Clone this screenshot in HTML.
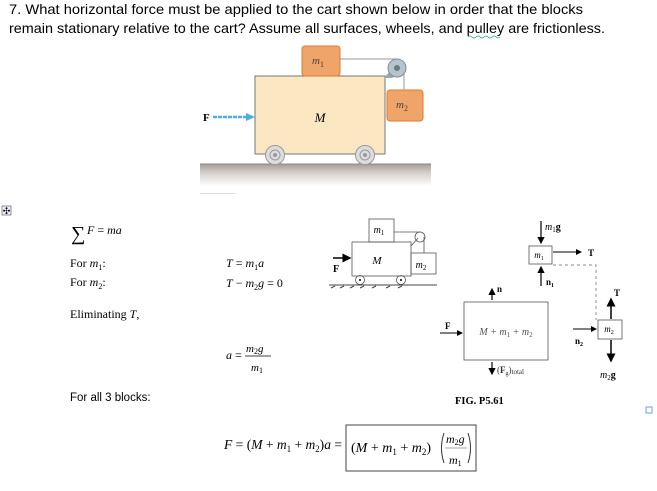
<!DOCTYPE html>
<html><head><meta charset="utf-8"><style>
html,body{margin:0;padding:0;background:#fff;width:657px;height:491px;overflow:hidden}
svg{display:block}
.s{font-family:"Liberation Serif",serif}
.i{font-family:"Liberation Serif",serif;font-style:italic}
</style></head><body>
<svg width="657" height="491" viewBox="0 0 657 491" xmlns="http://www.w3.org/2000/svg">
<defs>
<linearGradient id="gr" x1="0" y1="0" x2="0" y2="1"><stop offset="0" stop-color="#a59c97"/><stop offset="0.4" stop-color="#d6d0cc"/><stop offset="1" stop-color="#fff"/></linearGradient>
<marker id="a" markerWidth="6" markerHeight="6" refX="5" refY="3" orient="auto"><path d="M0,0 L6,3 L0,6z" fill="#000"/></marker>
</defs>
<text x="9" y="14" font-family="Liberation Sans,sans-serif" font-size="14" textLength="574" lengthAdjust="spacingAndGlyphs">7. What horizontal force must be applied to the cart shown below in order that the blocks</text>
<text x="9" y="33" font-family="Liberation Sans,sans-serif" font-size="14" textLength="596" lengthAdjust="spacingAndGlyphs">remain stationary relative to the cart? Assume all surfaces, wheels, and pulley are frictionless.</text>
<path d="M468,37 q2,-2 4,0 t4,0 t4,0 t4,0 t4,0 t4,0 t4,0 t4,0" stroke="#2a8" fill="none" stroke-width="0.8"/>

<!-- picture 1 -->
<rect x="200" y="164" width="231" height="22" fill="url(#gr)"/>
<line x1="200" y1="164" x2="431" y2="164" stroke="#888"/>
<rect x="255" y="76" width="130" height="78" fill="#fbe8c2" stroke="#777"/>
<text x="320" y="122" class="i" font-size="13" text-anchor="middle">M</text>
<rect x="302" y="46" width="38" height="30" rx="3" fill="#efa46a" stroke="#e07a30"/>
<text x="318" y="64" class="i" font-size="11" text-anchor="middle" fill="#444">m<tspan font-size="8" dy="3" font-style="normal">1</tspan></text>
<line x1="340" y1="59" x2="397" y2="59" stroke="#999"/>
<line x1="404" y1="69" x2="404" y2="90" stroke="#999"/>
<polygon points="384,78 392,78 401,72 396,64" fill="#9aa8b0"/>
<circle cx="397" cy="68" r="9" fill="#b8c4cc" stroke="#7e8e98"/>
<circle cx="397" cy="68" r="3" fill="#6a7a84"/>
<rect x="387" y="90" width="36" height="31" rx="3" fill="#efa46a" stroke="#e07a30"/>
<text x="402" y="108" class="i" font-size="11" text-anchor="middle" fill="#444">m<tspan font-size="8" dy="3" font-style="normal">2</tspan></text>
<text x="203" y="121" class="s" font-size="11" font-weight="bold">F</text>
<line x1="213" y1="117" x2="248" y2="117" stroke="#4ab0e8" stroke-width="2.5" stroke-dasharray="4,1"/>
<polygon points="246,113 255,117 246,121" fill="#4ab0e8"/>
<circle cx="275" cy="155" r="9.5" fill="#ddd" stroke="#999"/><circle cx="275" cy="155" r="5" fill="none" stroke="#999"/><circle cx="275" cy="155" r="2" fill="#999"/>
<circle cx="365" cy="155" r="9.5" fill="#ddd" stroke="#999"/><circle cx="365" cy="155" r="5" fill="none" stroke="#999"/><circle cx="365" cy="155" r="2" fill="#999"/>
<rect x="200" y="193" width="35" height="1" fill="#ddd"/>

<!-- move icon -->
<rect x="2" y="206" width="9" height="9" fill="#eef" stroke="#777" stroke-width="0.8"/>
<text x="6.5" y="214" font-size="9" text-anchor="middle" font-family="DejaVu Sans,sans-serif">✣</text>

<!-- equations -->
<text x="71" y="240" class="s" font-size="20">∑</text>
<text x="87" y="234" class="i" font-size="12">F <tspan font-style="normal">=</tspan> ma</text>
<text x="70" y="267" class="s" font-size="12">For <tspan font-style="italic">m</tspan><tspan font-size="8" dy="3">1</tspan><tspan dy="-3">:</tspan></text>
<text x="70" y="286" class="s" font-size="12">For <tspan font-style="italic">m</tspan><tspan font-size="8" dy="3">2</tspan><tspan dy="-3">:</tspan></text>
<text x="226" y="267" class="s" font-size="12"><tspan font-style="italic">T</tspan> = <tspan font-style="italic">m</tspan><tspan font-size="8" dy="3">1</tspan><tspan dy="-3" font-style="italic">a</tspan></text>
<text x="226" y="287" class="s" font-size="12"><tspan font-style="italic">T</tspan> − <tspan font-style="italic">m</tspan><tspan font-size="8" dy="3">2</tspan><tspan dy="-3" font-style="italic">g</tspan> = 0</text>
<text x="70" y="318" class="s" font-size="12">Eliminating <tspan font-style="italic">T</tspan>,</text>
<text x="226" y="359" class="s" font-size="12"><tspan font-style="italic">a</tspan> =</text>
<text x="246" y="352" class="i" font-size="11">m<tspan font-size="8" dy="2" font-style="normal">2</tspan><tspan dy="-2">g</tspan></text>
<line x1="245" y1="356" x2="271" y2="356" stroke="#000" stroke-width="0.7"/>
<text x="251" y="371" class="i" font-size="11">m<tspan font-size="8" dy="2" font-style="normal">1</tspan></text>
<text x="70" y="401" font-family="Liberation Sans,sans-serif" font-size="11.5">For all 3 blocks:</text>
<text x="224" y="449" class="s" font-size="14" textLength="118" lengthAdjust="spacingAndGlyphs"><tspan font-style="italic">F</tspan> = (<tspan font-style="italic">M</tspan> + <tspan font-style="italic">m</tspan><tspan font-size="9" dy="3">1</tspan><tspan dy="-3"> + </tspan><tspan font-style="italic">m</tspan><tspan font-size="9" dy="3">2</tspan><tspan dy="-3">)</tspan><tspan font-style="italic">a</tspan> =</text>
<rect x="346" y="425" width="130" height="46" fill="none" stroke="#444" stroke-width="1"/>
<text x="351" y="452" class="s" font-size="14">(<tspan font-style="italic">M</tspan> + <tspan font-style="italic">m</tspan><tspan font-size="9" dy="3">1</tspan><tspan dy="-3"> + </tspan><tspan font-style="italic">m</tspan><tspan font-size="9" dy="3">2</tspan><tspan dy="-3">)</tspan></text>
<path d="M444,433 q-5,15 0,30" fill="none" stroke="#333" stroke-width="1"/>
<path d="M468,433 q5,15 0,30" fill="none" stroke="#333" stroke-width="1"/>
<text x="446" y="443" class="i" font-size="12">m<tspan font-size="8" dy="2" font-style="normal">2</tspan><tspan dy="-2">g</tspan></text>
<line x1="445" y1="448" x2="467" y2="448" stroke="#888" stroke-width="0.8"/>
<text x="449" y="464" class="i" font-size="12">m<tspan font-size="8" dy="2" font-style="normal">1</tspan></text>

<!-- small figure -->
<g stroke="#555" fill="none" stroke-width="0.8">
<rect x="352" y="242" width="59" height="34"/>
<rect x="369" y="219" width="25" height="23"/>
<rect x="411" y="253" width="25" height="21"/>
<line x1="394" y1="232" x2="421" y2="232"/>
<line x1="424" y1="237" x2="424" y2="253"/>
<circle cx="420" cy="237" r="5"/>
<line x1="411" y1="246" x2="418" y2="238"/>
<circle cx="360" cy="280" r="4.5"/><circle cx="401" cy="280" r="4.5"/>
</g>
<circle cx="360" cy="280" r="1" fill="#000"/><circle cx="401" cy="280" r="1" fill="#000"/>
<line x1="329" y1="285" x2="437" y2="285" stroke="#444" stroke-width="1"/>
<path d="M331,288 l4,-2 M340,288 l4,-2 M350,288 l4,-2 M360,288 l4,-2 M372,288 l4,-2 M386,288 l4,-2 M398,288 l4,-2" stroke="#444"/>
<text x="379" y="233" class="i" font-size="10" text-anchor="middle">m<tspan font-size="7" dy="2" font-style="normal">1</tspan></text>
<text x="377" y="264" class="i" font-size="11" text-anchor="middle">M</text>
<text x="421" y="268" class="i" font-size="10" text-anchor="middle">m<tspan font-size="7" dy="2" font-style="normal">2</tspan></text>
<line x1="333" y1="258" x2="350" y2="258" stroke="#000" stroke-width="1.5" marker-end="url(#a)"/>
<text x="333" y="272" class="s" font-size="10" font-weight="bold">F</text>

<!-- FBDs -->
<rect x="464" y="302" width="84" height="58" fill="none" stroke="#555" stroke-width="0.8"/>
<text x="506" y="335" class="i" font-size="10" text-anchor="middle" fill="#555">M + m<tspan font-size="7" dy="2" font-style="normal">1</tspan><tspan dy="-2"> + m</tspan><tspan font-size="7" dy="2" font-style="normal">2</tspan></text>
<line x1="492" y1="300" x2="492" y2="289" stroke="#000" stroke-width="1.2" marker-end="url(#a)"/>
<text x="497" y="292" class="s" font-size="9" font-weight="bold">n</text>
<line x1="440" y1="333" x2="462" y2="333" stroke="#000" stroke-width="1" marker-end="url(#a)"/>
<text x="445" y="329" class="s" font-size="9" font-weight="bold">F</text>
<line x1="492" y1="362" x2="492" y2="374" stroke="#000" stroke-width="1.2" marker-end="url(#a)"/>
<text x="497" y="373" class="s" font-size="9" fill="#333">(<tspan font-weight="bold">F</tspan><tspan font-size="6" dy="2">g</tspan><tspan dy="-2">)</tspan><tspan font-size="7" dy="1">total</tspan></text>

<rect x="529" y="246" width="23" height="18" fill="none" stroke="#555" stroke-width="0.8"/>
<text x="539" y="258" class="i" font-size="9" text-anchor="middle">m<tspan font-size="6" dy="2" font-style="normal">1</tspan></text>
<line x1="541" y1="221" x2="541" y2="243" stroke="#000" stroke-width="1.2" marker-end="url(#a)"/>
<text x="545" y="230" class="i" font-size="10">m<tspan font-size="7" dy="2" font-style="normal">1</tspan><tspan dy="-2" font-weight="bold" font-style="normal">g</tspan></text>
<line x1="553" y1="252" x2="581" y2="252" stroke="#000" stroke-width="1" marker-end="url(#a)"/>
<text x="588" y="256" class="s" font-size="9" font-weight="bold">T</text>
<line x1="541" y1="286" x2="541" y2="267" stroke="#000" stroke-width="1.2" marker-end="url(#a)"/>
<text x="546" y="285" class="s" font-size="9" font-weight="bold">n<tspan font-size="6" dy="2">1</tspan></text>
<path d="M553,265 H596 V320" fill="none" stroke="#666" stroke-width="0.7" stroke-dasharray="3,3"/>

<rect x="598" y="320" width="24" height="19" fill="none" stroke="#555" stroke-width="0.8"/>
<text x="609" y="332" class="i" font-size="9" text-anchor="middle">m<tspan font-size="6" dy="2" font-style="normal">2</tspan></text>
<line x1="611" y1="319" x2="611" y2="299" stroke="#000" stroke-width="1.5" marker-end="url(#a)"/>
<text x="614" y="296" class="s" font-size="9" font-weight="bold">T</text>
<line x1="573" y1="329" x2="596" y2="329" stroke="#000" stroke-width="1" marker-end="url(#a)"/>
<text x="575" y="344" class="s" font-size="9" font-weight="bold">n<tspan font-size="6" dy="2">2</tspan></text>
<line x1="611" y1="340" x2="611" y2="361" stroke="#000" stroke-width="1.5" marker-end="url(#a)"/>
<text x="600" y="378" class="i" font-size="10">m<tspan font-size="7" dy="2" font-style="normal">2</tspan><tspan dy="-2" font-weight="bold" font-style="normal">g</tspan></text>

<text x="455" y="404" class="s" font-size="10.5" font-weight="bold">FIG. P5.61</text>
<rect x="646" y="407" width="6" height="6" fill="none" stroke="#6aa5e0" stroke-width="1"/>
</svg>
</body></html>
